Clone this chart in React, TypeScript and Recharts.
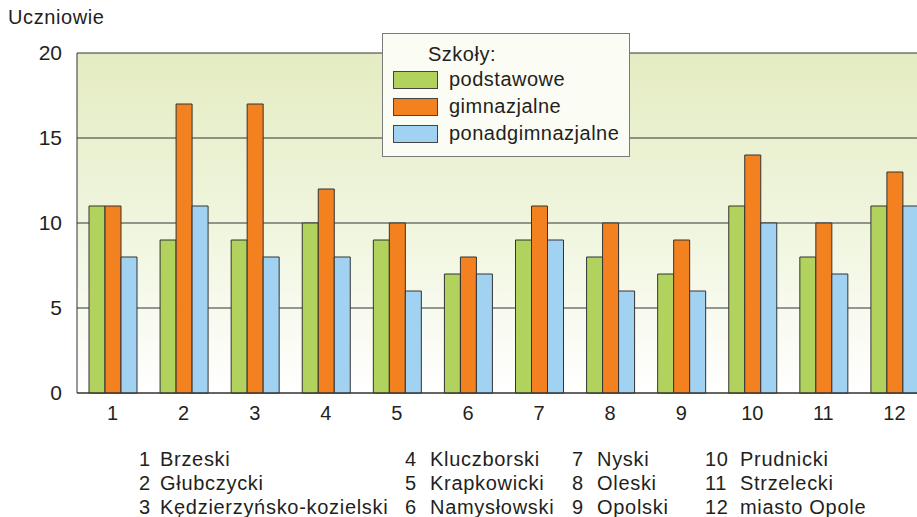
import {
  Bar,
  BarChart,
  CartesianGrid,
  Legend,
  XAxis,
  YAxis,
} from "recharts";

const districts = ["1", "2", "3", "4", "5", "6", "7", "8", "9", "10", "11", "12"];
const podstawowe = [11, 9, 9, 10, 9, 7, 9, 8, 7, 11, 8, 11];
const gimnazjalne = [11, 17, 17, 12, 10, 8, 11, 10, 9, 14, 10, 13];
const ponadgimnazjalne = [8, 11, 8, 8, 6, 7, 9, 6, 6, 10, 7, 11];
const seriesOrder = ["podstawowe", "gimnazjalne", "ponadgimnazjalne"];
const yTicks = [0, 5, 10, 15, 20];
const districtNames = [
  "Brzeski",
  "Głubczycki",
  "Kędzierzyńsko-kozielski",
  "Kluczborski",
  "Krapkowicki",
  "Namysłowski",
  "Nyski",
  "Oleski",
  "Opolski",
  "Prudnicki",
  "Strzelecki",
  "miasto Opole",
];

const data = districts.map((name, i) => ({
  name,
  podstawowe: podstawowe[i],
  gimnazjalne: gimnazjalne[i],
  ponadgimnazjalne: ponadgimnazjalne[i],
}));

const FONT = "'Liberation Sans', Arial, sans-serif";
const TEXT = "#231f20";

// column x-positions for the district key under the chart
const keyCols = [
  { num: 139, name: 160 },
  { num: 405, name: 430 },
  { num: 572, name: 597 },
  { num: 705, name: 740 },
];
const keyRows = [448, 472, 496];

const LegendBox = ({ payload }: any) => {
  const items = [...(payload || [])].sort(
    (a: any, b: any) => seriesOrder.indexOf(a.value) - seriesOrder.indexOf(b.value)
  );
  return (
    <div
      style={{
        width: 248,
        height: 124,
        boxSizing: "border-box",
        background: "#fbfcf4",
        border: "1px solid #7a7a7a",
        fontFamily: FONT,
        fontSize: 20,
        letterSpacing: 0.5,
        color: TEXT,
        paddingTop: 8,
      }}
    >
      <div style={{ marginLeft: 45, lineHeight: "24px" }}>Szkoły:</div>
      {items.map((p: any) => (
        <div key={p.value} style={{ display: "flex", alignItems: "center", height: 27, marginLeft: 10 }}>
          <span
            style={{
              width: 45,
              height: 18,
              boxSizing: "border-box",
              background: p.color,
              border: "1px solid #444",
              marginRight: 11,
            }}
          />
          <span>{p.value}</span>
        </div>
      ))}
    </div>
  );
};

export default function App() {
  return (
    <div
      style={{
        position: "absolute",
        left: 0,
        top: 0,
        width: 917,
        height: 517,
        overflow: "hidden",
        background: "#fff",
        fontFamily: FONT,
        color: TEXT,
      }}
    >
      <div style={{ position: "absolute", left: 8, top: 6, fontSize: 20, letterSpacing: 0.6 }}>
        Uczniowie
      </div>
      <BarChart
        width={940}
        height={440}
        data={data}
        margin={{ top: 53, right: 10, left: 0, bottom: 17 }}
        barCategoryGap={12}
        barGap={0}
      >
        <defs>
          <linearGradient id="bg" x1="0" y1="0" x2="0" y2="1">
            <stop offset="0%" stopColor="#e4ecc2" />
            <stop offset="55%" stopColor="#f1f6e0" />
            <stop offset="100%" stopColor="#ffffff" />
          </linearGradient>
        </defs>
        <CartesianGrid vertical={false} stroke="#333333" fill="url(#bg)" fillOpacity={1} />
        <XAxis
          dataKey="name"
          stroke="#333333"
          tickLine={false}
          tickSize={0}
          tickMargin={13}
          tick={{ fill: TEXT, fontSize: 20, fontFamily: FONT }}
        />
        <YAxis
          width={77}
          domain={[0, 20]}
          ticks={yTicks}
          stroke="#333333"
          tickLine={false}
          tickSize={0}
          tickMargin={15}
          tick={{ fill: TEXT, fontSize: 21, fontFamily: FONT }}
        />
        <Legend
          layout="vertical"
          align="center"
          verticalAlign="middle"
          wrapperStyle={{ left: 382, top: 33, width: 248 }}
          content={<LegendBox />}
        />
        <Bar dataKey="podstawowe" fill="#b1d35d" stroke="#333333" isAnimationActive={false} />
        <Bar dataKey="gimnazjalne" fill="#f38120" stroke="#333333" isAnimationActive={false} />
        <Bar dataKey="ponadgimnazjalne" fill="#a2d2f2" stroke="#333333" isAnimationActive={false} />
      </BarChart>
      {districtNames.map((name, i) => {
        const col = keyCols[Math.floor(i / 3)];
        const top = keyRows[i % 3];
        return (
          <div key={name} style={{ fontSize: 20, letterSpacing: 0.7, lineHeight: "22px" }}>
            <span style={{ position: "absolute", left: col.num, top }}>{i + 1}</span>
            <span style={{ position: "absolute", left: col.name, top, whiteSpace: "nowrap" }}>{name}</span>
          </div>
        );
      })}
    </div>
  );
}
